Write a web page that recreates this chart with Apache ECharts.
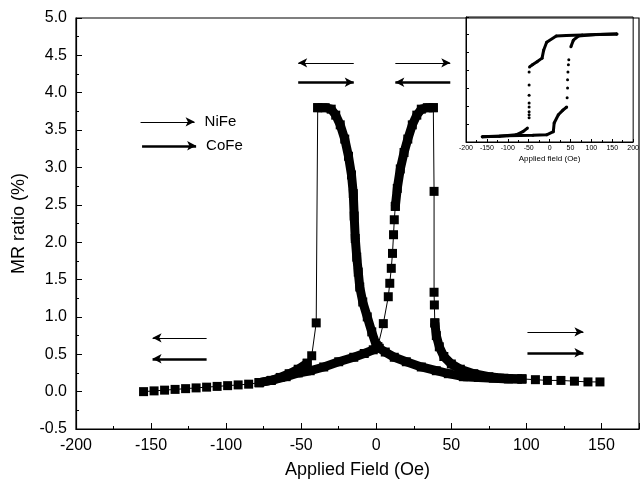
<!DOCTYPE html>
<html>
<head>
<meta charset="utf-8">
<script src="https://cdn.jsdelivr.net/npm/echarts@6/dist/echarts.min.js"></script>
<style>
  html, body { margin: 0; padding: 0; background: #fff; }
  #chart { width: 642px; height: 484px; }
</style>
</head>
<body>
<div id="chart"></div>
<script>
// MR loop, field swept down (+150 -> -155), peak on the negative side
const tailRight = [[149, 0.13], [141, 0.13], [132, 0.14], [123, 0.15], [114, 0.15], [106, 0.16], [97, 0.17]];
const downDense = [[97, 0.17], [88, 0.17], [78, 0.18], [68, 0.19], [58, 0.2], [48, 0.24], [40, 0.28], [30, 0.33],
  [20, 0.4], [12, 0.46], [6, 0.53], [2, 0.58], [0, 0.62], [-3, 0.8], [-6, 1.0], [-9, 1.2], [-11, 1.4],
  [-12, 1.6], [-13, 1.8], [-14, 2.05], [-14.7, 2.35], [-15.3, 2.65], [-16.5, 2.9], [-18.5, 3.15],
  [-21, 3.38], [-24, 3.57], [-27, 3.7], [-30, 3.78], [-34, 3.8], [-39, 3.8]];
const downJump = [[-39, 3.8], [-40, 0.92], [-43, 0.48], [-46, 0.38]];
const downLow = [[-46, 0.38], [-52, 0.3], [-58, 0.24], [-64, 0.19], [-70, 0.15], [-78, 0.12]];
const tailLeft = [[-78, 0.12], [-85, 0.1], [-92, 0.09], [-99, 0.08], [-106, 0.07], [-113, 0.06],
  [-120, 0.05], [-127, 0.04], [-134, 0.03], [-141, 0.02], [-148, 0.01], [-155, 0.0]];
// field swept up (-155 -> +150), peak on the positive side
const upLow = [[-78, 0.12], [-70, 0.15], [-60, 0.2], [-52, 0.25], [-44, 0.28], [-35, 0.33], [-25, 0.4],
  [-15, 0.46], [-8, 0.51], [-2, 0.56], [1, 0.6]];
const upRise = [[1, 0.6], [4.7, 0.91], [8, 1.27], [9, 1.45], [10, 1.65], [10.8, 1.85], [11.5, 2.1],
  [12, 2.3], [12.7, 2.48]];
const upDense = [[12.7, 2.48], [14, 2.72], [16, 2.98], [18.5, 3.2], [21, 3.38], [24, 3.57], [27, 3.7],
  [30, 3.78], [34, 3.8], [38, 3.8]];
const upJump = [[38, 3.8], [38.5, 2.68], [38.5, 1.33], [38.7, 1.16], [39, 0.92]];
const upDrop = [[39, 0.92], [40, 0.75], [42, 0.6], [45, 0.47], [50, 0.37], [56, 0.3], [65, 0.24],
  [75, 0.2], [85, 0.18], [97, 0.17]];

// inset: magnetisation loop (arb. units)
const insetDown = [[161, 1.0], [120, 0.99], [78, 0.98], [40, 0.97], [16, 0.96], [-7, 0.84], [-14, 0.69],
  [-18, 0.53], [-30, 0.46], [-41, 0.4], [-48, 0.36], [-49, 0.26], [-49, 0.01], [-49, -0.19], [-49, -0.34],
  [-49, -0.42], [-49, -0.51], [-49, -0.57], [-49, -0.63], [-53, -0.83], [-64, -0.9], [-80, -0.96],
  [-120, -0.99], [-161, -1.0]];
const insetUp = [[-161, -1.0], [-100, -0.98], [-40, -0.97], [-7, -0.96], [9, -0.9], [11, -0.73],
  [21, -0.57], [32, -0.48], [41, -0.42], [42, -0.24], [43, -0.05], [43, 0.11], [44, 0.26], [45, 0.4],
  [46, 0.5], [51, 0.75], [57, 0.88], [69, 0.96], [110, 0.99], [161, 1.0]];

// direction arrows [x1, y1, x2, y2, thick] (arrow head at x2)
const arrows = [
  [-113, 0.72, -149, 0.72, false], [-113, 0.44, -149, 0.44, true],
  [-15, 4.40, -52, 4.40, false], [-52, 4.14, -15, 4.14, true],
  [12.7, 4.40, 49.3, 4.40, false], [49.3, 4.14, 12.7, 4.14, true],
  [100.7, 0.80, 138, 0.80, false], [100.7, 0.52, 138, 0.52, true]
];
const keyArrows = [[-157, 3.61, -121, 3.61, false, 'NiFe'], [-156, 3.29, -120, 3.29, true, 'CoFe']];

const FONT = 'Liberation Sans';

function seg(data, thick) {
  return {
    type: 'line',
    data: data,
    xAxisIndex: 0,
    yAxisIndex: 0,
    symbol: 'rect',
    symbolSize: 9,
    showAllSymbol: true,
    itemStyle: { color: '#000' },
    lineStyle: { color: '#000', width: thick ? 9 : 1, join: 'round' },
    animation: false,
    z: 3
  };
}

function arrowItem(a) {
  return [
    { coord: [a[0], a[1]], symbol: 'none', lineStyle: { width: a[4] ? 2.6 : 1.2, color: '#000', type: 'solid' } },
    { coord: [a[2], a[3]], symbol: 'arrow' }
  ];
}

function insetDots(data) {
  return {
    type: 'line',
    data: data,
    xAxisIndex: 1,
    yAxisIndex: 1,
    symbol: 'circle',
    symbolSize: 3,
    showAllSymbol: true,
    itemStyle: { color: '#000' },
    lineStyle: { width: 0 },
    animation: false,
    z: 10
  };
}

// dense part of the inset loop, drawn as a heavy trace
function insetTrace(data) {
  return {
    type: 'line',
    data: data,
    xAxisIndex: 1,
    yAxisIndex: 1,
    symbol: 'none',
    lineStyle: { color: '#000', width: 3 },
    animation: false,
    z: 10
  };
}

const chart = echarts.init(document.getElementById('chart'), null, { renderer: 'canvas' });

const series = [
  seg(tailRight, false),
  seg(downDense, true),
  seg(downJump, false),
  seg(downLow, true),
  seg(tailLeft, false),
  seg(upLow, true),
  seg(upRise, false),
  seg(upDense, true),
  seg(upJump, false),
  seg(upDrop, true),
  insetDots(insetDown),
  insetDots(insetUp),
  insetTrace(insetDown.slice(0, 11)),
  insetTrace(insetDown.slice(19)),
  insetTrace(insetUp.slice(0, 9)),
  insetTrace(insetUp.slice(15))
];

// arrows and key hang on the first series
series[0].markLine = {
  silent: true,
  animation: false,
  symbolSize: [7, 9],
  label: { show: false },
  data: arrows.map(arrowItem).concat(keyArrows.map(function (a) {
    const it = arrowItem(a);
    it[0].label = {
      show: true, position: 'end', formatter: a[5], distance: 10,
      color: '#000', fontFamily: FONT, fontSize: 15
    };
    return it;
  }))
};

const option = {
  backgroundColor: '#fff',
  animation: false,
  textStyle: { fontFamily: FONT },
  grid: [
    { left: 76, right: 3, top: 18, bottom: 51, show: true, borderColor: '#000', borderWidth: 1.2 },
    { left: 466, right: 1, top: 17, height: 125, show: true, borderColor: '#000', borderWidth: 1 }
  ],
  xAxis: [
    {
      type: 'value', gridIndex: 0, min: -200, max: 175, interval: 50,
      name: 'Applied Field (Oe)', nameLocation: 'middle', nameGap: 32,
      nameTextStyle: { color: '#000', fontSize: 18, fontFamily: FONT },
      axisLine: { onZero: false, lineStyle: { color: '#000', width: 1.2 } },
      axisTick: { inside: true, length: 6, lineStyle: { color: '#000' } },
      minorTick: { show: true, splitNumber: 2, length: 3, lineStyle: { color: '#000' } },
      splitLine: { show: false },
      axisLabel: { color: '#000', fontSize: 16, margin: 9, fontFamily: FONT, showMaxLabel: false }
    },
    {
      type: 'value', gridIndex: 1, min: -200, max: 200, interval: 50,
      name: 'Applied field (Oe)', nameLocation: 'middle', nameGap: 13,
      nameTextStyle: { color: '#000', fontSize: 8, fontFamily: FONT },
      axisLine: { onZero: false, lineStyle: { color: '#000', width: 1 } },
      axisTick: { inside: true, length: 3, lineStyle: { color: '#000' } },
      minorTick: { show: true, splitNumber: 2, length: 2, lineStyle: { color: '#000' } },
      splitLine: { show: false },
      axisLabel: { color: '#000', fontSize: 7, margin: 3, fontFamily: FONT }
    }
  ],
  yAxis: [
    {
      type: 'value', gridIndex: 0, min: -0.5, max: 5, interval: 0.5,
      name: 'MR ratio (%)', nameLocation: 'middle', nameGap: 48,
      nameTextStyle: { color: '#000', fontSize: 18, fontFamily: FONT },
      axisLine: { onZero: false, lineStyle: { color: '#000', width: 1.2 } },
      axisTick: { inside: true, length: 6, lineStyle: { color: '#000' } },
      minorTick: { show: true, splitNumber: 2, length: 3, lineStyle: { color: '#000' } },
      splitLine: { show: false },
      axisLabel: { color: '#000', fontSize: 16, margin: 9, fontFamily: FONT,
        formatter: function (v) { return v.toFixed(1); } }
    },
    {
      type: 'value', gridIndex: 1, min: -1.1, max: 1.33, interval: 0.35,
      axisLine: { onZero: false, lineStyle: { color: '#000', width: 1 } },
      axisTick: { inside: true, length: 3, lineStyle: { color: '#000' } },
      splitLine: { show: false },
      axisLabel: { show: false }
    }
  ],
  series: series
};

chart.setOption(option);
</script>
</body>
</html>
